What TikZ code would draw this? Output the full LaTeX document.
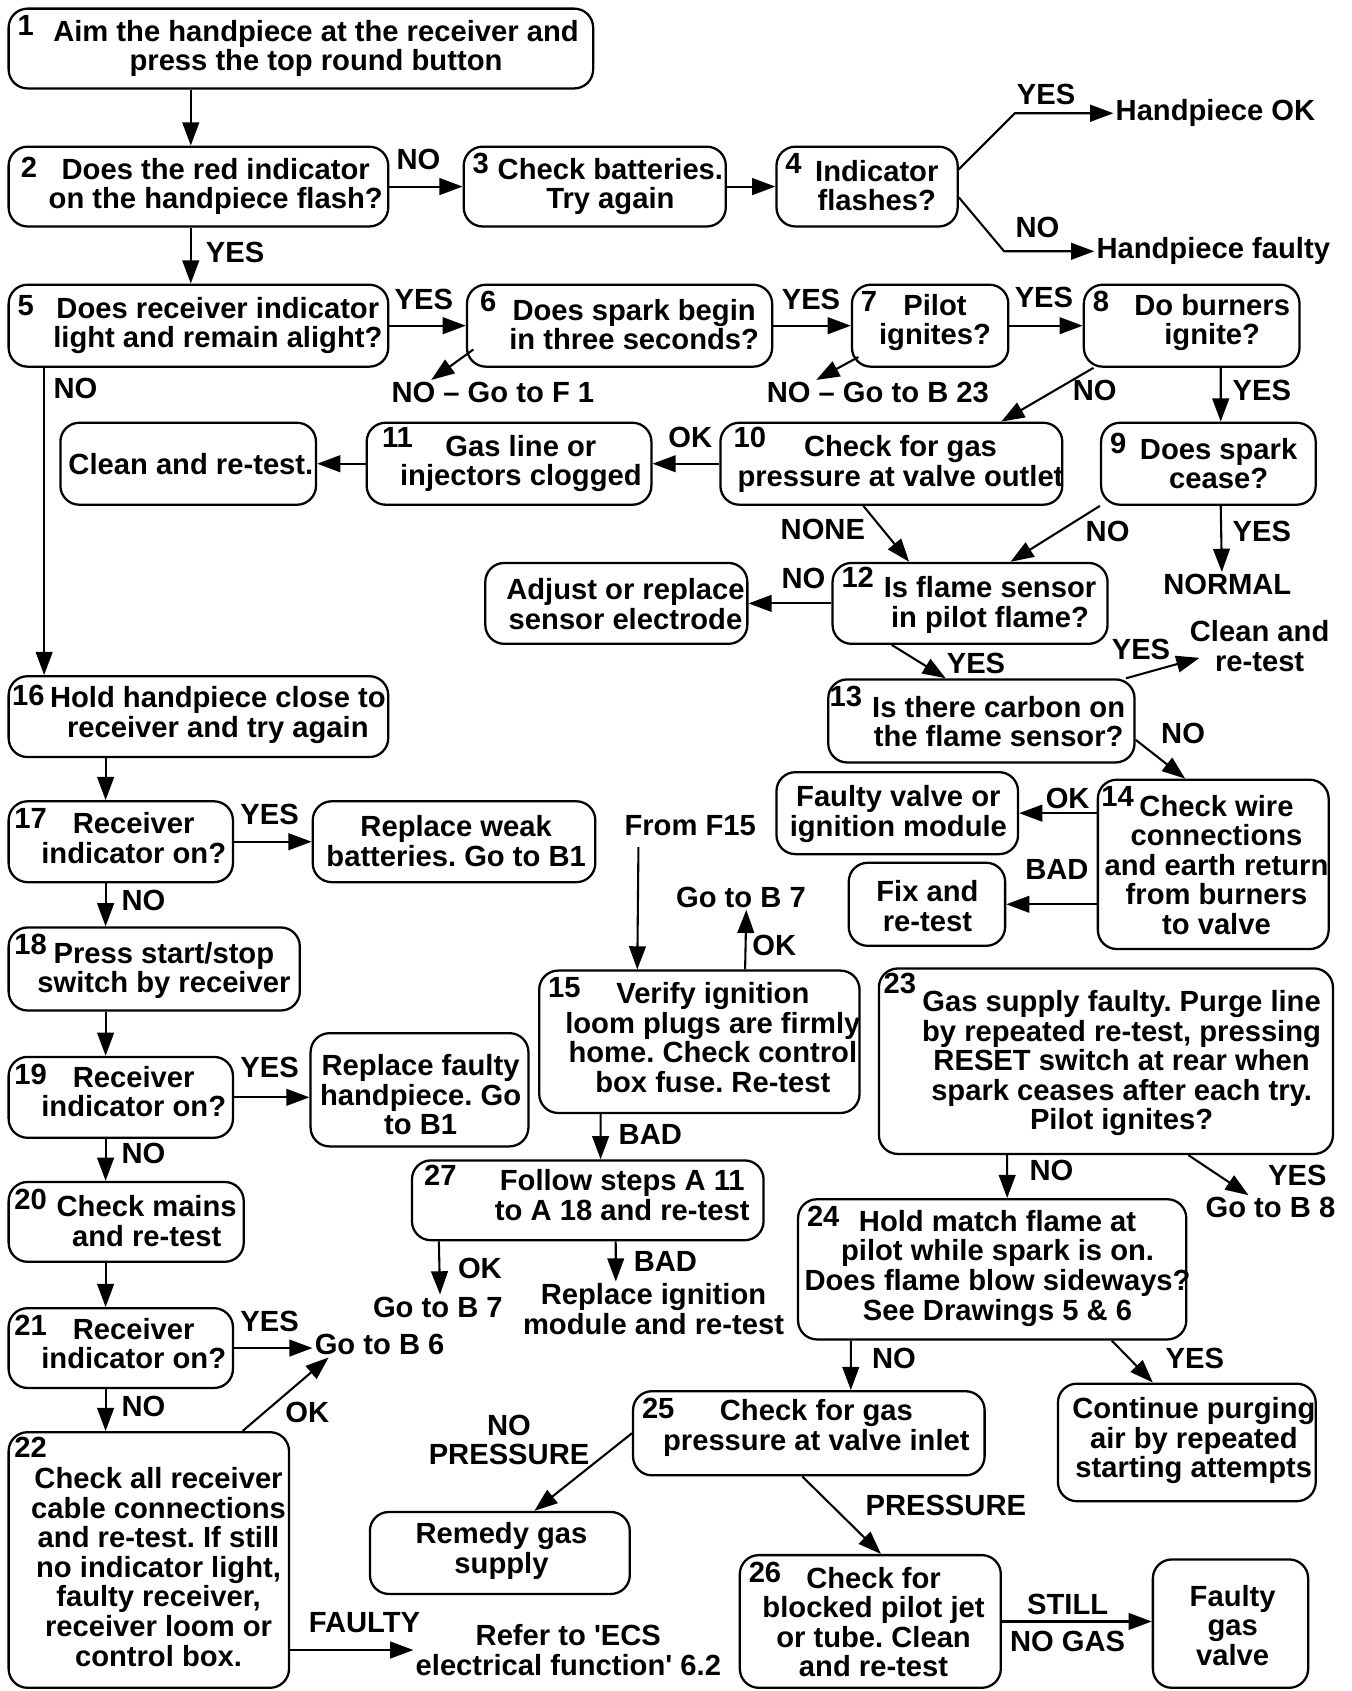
\documentclass[tikz,border=0pt]{standalone}
\usepackage{fontspec}
\setmainfont{Liberation Sans}
\usetikzlibrary{arrows.meta, fit}
\frenchspacing
\newcommand{\flowfont}{\fontsize{15.4}{15.6}\selectfont\bfseries}
\tikzset{
  box/.style={draw, rounded corners=10pt, line width=1.2pt, inner sep=0pt},
  txt/.style={align=center, inner sep=1pt, font=\flowfont},
  lab/.style={align=center, inner sep=1pt, font=\flowfont},
  num/.style={anchor=north west, inner sep=0pt, font=\flowfont,
              xshift=0.18cm, yshift=-0.14cm},
  arrow/.style={-{Triangle[length=4.3mm,width=3.1mm]}, line width=1.1pt},
}

\begin{document}
\begin{tikzpicture}[x=0.02cm, y=-0.02cm]
  \useasboundingbox (0,0) rectangle (1253,1568);

  % top row
  \node[box, fit={(8,8) (550,82)}, label={[num]north west:1}] (b1) {};
  \node[txt] (t1) at (293,45) {Aim the handpiece at the receiver and\\press the top round button};
  \node[box, fit={(8,136) (360,210)}, label={[num, xshift=0.06cm, yshift=-0.06cm]north west:2}] (b2) {};
  \node[txt] (t2) at (200,173) {Does the red indicator\\on the handpiece flash?};
  \node[box, fit={(430,136) (673,210)}, label={[num]north west:3}] (b3) {};
  \node[txt] (t3) at (566,173) {Check batteries.\\Try again};
  \node[box, fit={(720,136) (888,210)}, label={[num]north west:4}] (b4) {};
  \node[txt] (t4) at (813,172) {Indicator\\flashes?};
  \node[txt] (hok) at (1127,105) {Handpiece OK};
  \node[txt] (hfl) at (1125,233) {Handpiece faulty};

  \node[box, fit={(8,264) (360,340)}, label={[num, yshift=-0.08cm]north west:5}] (b5) {};
  \node[txt] (t5) at (202,302) {Does receiver indicator\\light and remain alight?};
  \node[box, fit={(433,264) (716,340)}, label={[num, xshift=0.08cm]north west:6}] (b6) {};
  \node[txt] (t6) at (588,301) {Does spark begin\\in three seconds?};
  \node[txt] (nof1) at (457,364) {NO -- Go to F 1};
  \node[box, fit={(790,264) (935,340)}, label={[num]north west:7}] (b7) {};
  \node[txt] (t7) at (867,299) {Pilot\\ignites?};
  \node[txt] (nob23) at (814,364) {NO -- Go to B 23};
  \node[box, fit={(1005,264) (1205,340)}, label={[num]north west:8}] (b8) {};
  \node[txt] (t8) at (1124,299) {Do burners\\ignite?};

  % gas and flame checks
  \node[box, fit={(1021,392) (1220,468)}, label={[num, yshift=-0.06cm]north west:9}] (b9) {};
  \node[txt] (t9) at (1130,430) {Does spark\\cease?};
  \node[txt] (normal) at (1138,542) {NORMAL};
  \node[box, fit={(668,392) (985,468)}, label={[num, xshift=0.08cm, yshift=0.04cm]north west:10}] (b10) {};
  \node[txt] (t10) at (835,430) {Check for gas\\pressure at valve outlet};
  \node[box, fit={(340,392) (604,468)}, label={[num, xshift=0.12cm, yshift=0.04cm]north west:11}] (b11) {};
  \node[txt] (t11) at (483,430) {Gas line or\\injectors clogged};
  \node[box, fit={(56,392) (293,468)}] (bclean) {};
  \node[txt] (tclean) at (177,430) {Clean and re-test.};
  \node[box, fit={(772,522) (1027,597)}, label={[num, yshift=0.04cm]north west:12}] (b12) {};
  \node[txt] (t12) at (918,561) {Is flame sensor\\in pilot flame?};
  \node[box, fit={(450,522) (693,597)}] (badj) {};
  \node[txt] (tadj) at (580,560) {Adjust or replace\\sensor electrode};
  \node[box, fit={(768,630) (1052,707)}, label={[num, xshift=-0.14cm]north west:13}] (b13) {};
  \node[txt] (t13) at (926,669) {Is there carbon on\\the flame sensor?};
  \node[txt] (cr) at (1168,599) {Clean and\\re-test};
  \node[box, fit={(1018,723) (1232,880)}, label={[num, xshift=-0.1cm]north west:14}] (b14) {};
  \node[txt] (t14) at (1128,802) {Check wire\\connections\\and earth return\\from burners\\to valve};
  \node[box, fit={(720,716) (944,792)}] (bfv) {};
  \node[txt] (tfv) at (833,755) {Faulty valve or\\ignition module};
  \node[box, fit={(787,800) (932,877)}] (bfix) {};
  \node[txt] (tfix) at (860,840) {Fix and\\re-test};

  % receiver column
  \node[box, fit={(8,627) (360,702)}, label={[num, xshift=-0.1cm, yshift=-0.04cm]north west:16}] (b16) {};
  \node[txt] (t16) at (202,663) {Hold handpiece close to\\receiver and try again};
  \node[box, fit={(8,743) (216,818)}, label={[num, xshift=-0.06cm]north west:17}] (b17) {};
  \node[txt] (t17) at (124,777) {Receiver\\indicator on?};
  \node[box, fit={(290,743) (552,818)}] (brw) {};
  \node[txt] (trw) at (423,780) {Replace weak\\batteries. Go to B1};
  \node[box, fit={(8,860) (278,937)}, label={[num, xshift=-0.06cm]north west:18}] (b18) {};
  \node[txt] (t18) at (152,900) {Press start/stop\\switch by receiver};
  \node[box, fit={(8,980) (216,1055)}, label={[num, xshift=-0.06cm]north west:19}] (b19) {};
  \node[txt] (t19) at (124,1012) {Receiver\\indicator on?};
  \node[box, fit={(288,958) (490,1063)}] (brf) {};
  \node[txt] (trf) at (390,1015) {Replace faulty\\handpiece. Go\\to B1};
  \node[box, fit={(8,1096) (226,1170)}, label={[num, xshift=-0.06cm]north west:20}] (b20) {};
  \node[txt] (t20) at (136,1132) {Check mains\\and re-test};
  \node[box, fit={(8,1213) (216,1287)}, label={[num, xshift=-0.06cm]north west:21}] (b21) {};
  \node[txt] (t21) at (124,1246) {Receiver\\indicator on?};
  \node[txt] (gob6) at (352,1247) {Go to B 6};
  \node[box, fit={(8,1328) (268,1565)}, label={[num, xshift=-0.06cm, yshift=0.04cm]north west:22}] (b22) {};
  \node[txt] (t22) at (147,1453) {Check all receiver\\cable connections\\and re-test. If still\\no indicator light,\\faulty receiver,\\receiver loom or\\control box.};
  \node[txt] (refer) at (527,1530) {Refer to \textquotesingle ECS\\electrical function\textquotesingle{} 6.2};

  % ignition loom
  \node[txt] (fromf) at (640,766) {From F15};
  \node[box, fit={(500,900) (797,1032)}, label={[num]north west:15}] (b15) {};
  \node[txt] (t15) at (661,962) {Verify ignition\\loom plugs are firmly\\home. Check control\\box fuse. Re-test};
  \node[txt] (gob7a) at (687,832) {Go to B 7};
  \node[box, fit={(382,1076) (708,1150)}, label={[num, xshift=0.06cm, yshift=0.04cm]north west:27}] (b27) {};
  \node[txt] (t27) at (577,1108) {Follow steps A 11\\to A 18 and re-test};
  \node[txt] (gob7b) at (406,1212) {Go to B 7};
  \node[txt] (replign) at (606,1214) {Replace ignition\\module and re-test};

  % gas supply
  \node[box, fit={(815,898) (1236,1070)}, label={[num, xshift=-0.08cm, yshift=0.04cm]north west:23}] (b23) {};
  \node[txt] (t23) at (1040,986) {Gas supply faulty. Purge line\\by repeated re-test, pressing\\RESET switch at rear when\\spark ceases after each try.\\Pilot ignites?};
  \node[txt] (gob8) at (1178,1120) {Go to B 8};
  \node[box, fit={(740,1112) (1100,1242)}, label={[num]north west:24}] (b24) {};
  \node[txt] (t24) at (925,1176) {Hold match flame at\\pilot while spark is on.\\Does flame blow sideways?\\See Drawings 5 \& 6};
  \node[box, fit={(981,1283) (1220,1392)}] (bcont) {};
  \node[txt] (tcont) at (1107,1336) {Continue purging\\air by repeated\\starting attempts};
  \node[box, fit={(587,1290) (913,1368)}, label={[num]north west:25}] (b25) {};
  \node[txt] (t25) at (757,1324) {Check for gas\\pressure at valve inlet};
  \node[box, fit={(343,1402) (584,1478)}] (brem) {};
  \node[txt] (trem) at (465,1438) {Remedy gas\\supply};
  \node[box, fit={(686,1442) (928,1565)}, label={[num]north west:26}] (b26) {};
  \node[txt] (t26) at (810,1504) {Check for\\blocked pilot jet\\or tube. Clean\\and re-test};
  \node[box, fit={(1069,1446) (1213,1565)}] (bfgv) {};
  \node[txt] (tfgv) at (1143,1507) {Faulty\\gas\\valve};

  % branch labels
  \node[lab] (l2no) at (388,148) {NO};
  \node[lab] (l4yes) at (970,88) {YES};
  \node[lab] (l4no) at (962,211) {NO};
  \node[lab] (l2yes) at (218,234) {YES};
  \node[lab] (l5yes) at (393,278) {YES};
  \node[lab] (l6yes) at (752,278) {YES};
  \node[lab] (l7yes) at (968,276) {YES};
  \node[lab] (l5no) at (70,360) {NO};
  \node[lab] (l8no) at (1015,362) {NO};
  \node[lab] (l8yes) at (1170,362) {YES};
  \node[lab] (l10ok) at (640,406) {OK};
  \node[lab] (l10none) at (763,491) {NONE};
  \node[lab] (l9no) at (1027,493) {NO};
  \node[lab] (l9yes) at (1170,493) {YES};
  \node[lab] (l12no) at (745,536) {NO};
  \node[lab] (l12yes) at (905,615) {YES};
  \node[lab] (l13yes) at (1058,602) {YES};
  \node[lab] (l13no) at (1097,680) {NO};
  \node[lab] (l14ok) at (990,740) {OK};
  \node[lab] (l14bad) at (980,806) {BAD};
  \node[lab] (l17yes) at (250,755) {YES};
  \node[lab] (l17no) at (133,835) {NO};
  \node[lab] (l19yes) at (250,990) {YES};
  \node[lab] (l19no) at (133,1070) {NO};
  \node[lab] (l21yes) at (250,1225) {YES};
  \node[lab] (l21no) at (133,1304) {NO};
  \node[lab] (l22ok) at (285,1310) {OK};
  \node[lab] (l22faulty) at (338,1505) {FAULTY};
  \node[lab] (l15ok) at (718,877) {OK};
  \node[lab] (l15bad) at (603,1052) {BAD};
  \node[lab] (l27ok) at (445,1176) {OK};
  \node[lab] (l27bad) at (617,1170) {BAD};
  \node[lab] (l23no) at (975,1085) {NO};
  \node[lab] (l23yes) at (1203,1090) {YES};
  \node[lab] (l24no) at (829,1260) {NO};
  \node[lab] (l24yes) at (1108,1260) {YES};
  \node[lab] (l25nop) at (472,1335) {NO\\PRESSURE};
  \node[lab] (l25p) at (877,1396) {PRESSURE};
  \node[lab] (l26still) at (990,1488) {STILL};
  \node[lab] (l26nogas) at (990,1522) {NO GAS};

  % connectors
  \draw[arrow] ([xshift=3.4cm]b1.south west) -- ([xshift=3.4cm]b2.north west);
  \draw[arrow] (b2.east) -- (b3.west);
  \draw[arrow] (b3.east) -- (b4.west);
  \draw[arrow] ([yshift=0.32cm]b4.east) -- ++(52,-52) -- (hok.west);
  \draw[arrow] ([yshift=-0.2cm]b4.east) -- ++(42,50) -- (hfl.west);
  \draw[arrow] ([xshift=3.4cm]b2.south west) -- ([xshift=3.4cm]b5.north west);
  \draw[arrow] (b5.east) -- (b6.west);
  \draw[arrow] ([xshift=0.14cm,yshift=0.34cm]b6.south west) -- ([xshift=0.78cm]nof1.north west);
  \draw[arrow] (b6.east) -- (b7.west);
  \draw[arrow] ([xshift=0.14cm,yshift=0.2cm]b7.south west) -- ([xshift=0.96cm]nob23.north west);
  \draw[arrow] (b7.east) -- (b8.west);
  \draw[arrow] ([xshift=0.2cm]b8.south west) -- ([xshift=2.04cm]b10.north);
  \draw[arrow] ([xshift=2.56cm]b8.south west) -- ([xshift=2.24cm]b9.north west);
  \draw[arrow] ([xshift=2.24cm]b9.south west) -- ([xshift=-0.1cm]normal.north);
  \draw[arrow] (b9.south west) -- ([xshift=0.75cm]b12.north);
  \draw[arrow] (b10.west) -- (b11.east);
  \draw[arrow] ([xshift=-0.52cm]b10.south) -- ([xshift=-1.13cm]b12.north);
  \draw[arrow] (b11.west) -- (bclean.east);
  \draw[arrow] ([xshift=0.68cm]b5.south west) -- ([xshift=0.68cm]b16.north west);
  \draw[arrow] (b12.west) -- (badj.east);
  \draw[arrow] ([xshift=1.12cm]b12.south west) -- ([xshift=2.2cm]b13.north west);
  \draw[arrow] ([xshift=-0.18cm]b13.north east) -- ([xshift=0.22cm,yshift=-0.22cm]cr.west);
  \draw[arrow] ([yshift=-0.35cm]b13.east) -- ([xshift=1.64cm]b14.north west);
  \draw[arrow] (b14.west |- bfv.east) -- (bfv.east);
  \draw[arrow] (b14.west |- bfix.east) -- (bfix.east);
  \draw[arrow] ([xshift=1.82cm]b16.south west) -- ([xshift=1.82cm]b17.north west);
  \draw[arrow] ([xshift=1.82cm]b17.south west) -- ([xshift=1.82cm]b18.north west);
  \draw[arrow] ([xshift=1.82cm]b18.south west) -- ([xshift=1.82cm]b19.north west);
  \draw[arrow] ([xshift=1.82cm]b19.south west) -- ([xshift=1.82cm]b20.north west);
  \draw[arrow] ([xshift=1.82cm]b20.south west) -- ([xshift=1.82cm]b21.north west);
  \draw[arrow] ([xshift=1.82cm]b21.south west) -- ([xshift=1.82cm]b22.north west);
  \draw[arrow] (b17.east) -- (brw.west);
  \draw[arrow] (b19.east) -- (b19.east -| brf.west);
  \draw[arrow] (b21.east) -- (b21.east -| gob6.west);
  \draw[arrow] ([xshift=4.36cm]b22.north west) -- ([xshift=0.3cm]gob6.south west);
  \draw[arrow] (b22.east |- refer.west) -- (refer.west);
  \draw[arrow] ([xshift=0.3cm,yshift=-0.16cm]fromf.south west) -- ([xshift=1.84cm]b15.north west);
  \draw[arrow] ([xshift=3.84cm]b15.north west) -- ([xshift=0.1cm]gob7a.south);
  \draw[arrow] ([xshift=1.16cm]b15.south west) -- ([xshift=3.52cm]b27.north west);
  \draw[arrow] ([xshift=0.52cm]b27.south west) -- ([xshift=0.04cm]gob7b.north);
  \draw[arrow] ([xshift=3.8cm]b27.south west) -- ([xshift=-0.7cm]replign.north);
  \draw[arrow] ([xshift=2.4cm]b23.south west) -- ([xshift=3.9cm]b24.north west);
  \draw[arrow] ([xshift=5.76cm]b23.south west) -- ([xshift=0.84cm]gob8.north west);
  \draw[arrow] ([xshift=1.0cm]b24.south west) -- ([xshift=4.06cm]b25.north west);
  \draw[arrow] ([xshift=5.84cm]b24.south west) -- ([xshift=1.78cm]bcont.north west);
  \draw[arrow] (b25.west) -- ([xshift=0.64cm]brem.north);
  \draw[arrow] ([xshift=3.16cm]b25.south west) -- ([xshift=2.64cm]b26.north west);
  \draw[arrow] (b26.east) -- (b26.east -| bfgv.west);
\end{tikzpicture}
\end{document}
